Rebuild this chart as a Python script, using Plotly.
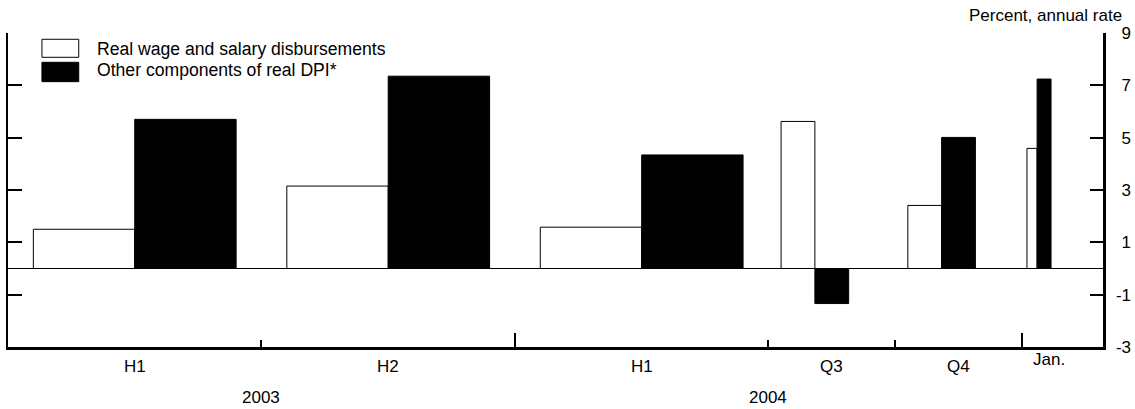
import plotly.graph_objects as go

# ---------------- data ----------------
period_labels = ["H1", "H2", "H1", "Q3", "Q4", "Jan."]
period_start = [0, 6, 12, 18, 21, 24]      # months since Jan 2003
period_length = [6, 6, 6, 3, 3, 1]         # months
year_labels = ["2003", "2004"]
year_start = [0, 12]
year_length = [12, 12]
wages = [1.50, 3.15, 1.58, 5.62, 2.41, 4.59]
other = [5.70, 7.35, 4.34, -1.34, 5.01, 7.24]
y_ticks = [-3, -1, 1, 3, 5, 7, 9]

# ---------------- layout helpers (positions within each period, in months) ----------------
group_offset = [3.0, 3.0, 3.0, 1.1, 1.1, 0.36]
white_width = [2.4, 2.4, 2.4, 0.8, 0.8, 0.24]
black_width = [2.4, 2.4, 2.4, 0.8, 0.8, 0.33]

centers = [s + o for s, o in zip(period_start, group_offset)]
white_x = [c - w / 2 for c, w in zip(centers, white_width)]
black_x = [c + w / 2 for c, w in zip(centers, black_width)]

FONT = "Liberation Sans, Arial, sans-serif"
FS = 17

fig = go.Figure()
fig.add_trace(go.Bar(x=white_x, y=wages, width=white_width, name="Real wage and salary disbursements",
                     marker=dict(color="white", line=dict(color="black", width=1)),
                     showlegend=False))
fig.add_trace(go.Bar(x=black_x, y=other, width=black_width, name="Other components of real DPI*",
                     marker=dict(color="black", line=dict(color="black", width=1)),
                     showlegend=False))

xr = [0, 25.92]
yr = [-3, 9]

def tick_text(v):
    return ("-" + str(abs(v))) if v < 0 else ("\u2004" + str(v))

fig.update_layout(
    width=1135, height=409,
    margin=dict(l=8, r=32, t=33, b=62, autoexpand=False),
    paper_bgcolor="white", plot_bgcolor="white",
    barmode="overlay", bargap=0,
    font=dict(family=FONT, size=FS, color="black"),
    showlegend=False,
    xaxis=dict(range=xr, showgrid=False, zeroline=False, showline=True, linecolor="black",
               linewidth=2.5, ticks="inside", tickvals=[6, 18, 21], ticklen=7, tickwidth=2,
               tickcolor="black", showticklabels=False, fixedrange=True, automargin=False),
    xaxis2=dict(range=xr, overlaying="x", side="bottom", showgrid=False, zeroline=False,
                showline=False, ticks="inside", tickvals=[12, 24], ticklen=14, tickwidth=2,
                tickcolor="black", showticklabels=False, automargin=False),
    yaxis=dict(range=yr, side="right", showgrid=False, zeroline=True, zerolinecolor="black",
               zerolinewidth=1.5, showline=True, linecolor="black", linewidth=2.5,
               ticks="inside", tickvals=y_ticks, ticktext=[tick_text(v) for v in y_ticks],
               ticklen=13, tickwidth=2, tickcolor="black", ticklabelstandoff=7,
               tickfont=dict(family=FONT, size=FS, color="black"), automargin=False),
    yaxis2=dict(range=yr, overlaying="y", side="left", showgrid=False, zeroline=False,
                showline=True, linecolor="black", linewidth=2.5, ticks="inside",
                tickvals=y_ticks[1:-1], ticklen=14, tickwidth=2, tickcolor="black",
                showticklabels=False, automargin=False),
    yaxis3=dict(range=yr, overlaying="y", side="right", showgrid=False, zeroline=False,
                showline=False, ticks="inside", tickvals=[y_ticks[-1]], ticklen=21, tickwidth=2,
                tickcolor="black", showticklabels=False, automargin=False),
    yaxis4=dict(range=yr, overlaying="y", side="left", showgrid=False, zeroline=False,
                showline=False, ticks="inside", tickvals=[y_ticks[-1]], ticklen=22, tickwidth=2,
                tickcolor="black", showticklabels=False, automargin=False),
)

# dummy traces to activate overlay axes
for xa, ya in [("x2", "y2"), ("x", "y3"), ("x", "y4")]:
    fig.add_trace(go.Scatter(x=[None], y=[None], xaxis=xa, yaxis=ya, showlegend=False,
                             hoverinfo="skip"))

annotations = []
for lab, s, l in zip(period_labels, period_start, period_length):
    is_month = l == 1
    annotations.append(dict(x=s + l / 2, y=0, xref="x", yref="paper", text=lab,
                            showarrow=False, xanchor="center", yanchor="middle",
                            xshift=6 if is_month else 0,
                            yshift=-12 if is_month else -19.5,
                            font=dict(family=FONT, size=FS)))
for lab, s, l in zip(year_labels, year_start, year_length):
    annotations.append(dict(x=s + l / 2, y=0, xref="x", yref="paper", text=lab,
                            showarrow=False, xanchor="center", yanchor="middle",
                            yshift=-50.3, font=dict(family=FONT, size=FS)))

annotations.append(dict(x=1.019, y=1.057, xref="paper", yref="paper",
                        text="Percent, annual rate", showarrow=False,
                        xanchor="right", yanchor="middle", font=dict(family=FONT, size=FS)))

# custom legend
legend_names = [fig.data[0].name, fig.data[1].name]
legend_fill = ["white", "black"]
legend_rows = [(0.9226, 0.98, 0.9497), (0.845, 0.9067, 0.882)]
shapes = []
for name, fill, (y0, y1, ym) in zip(legend_names, legend_fill, legend_rows):
    shapes.append(dict(type="rect", xref="paper", yref="paper", x0=0.031, x1=0.0646,
                       y0=y0, y1=y1, fillcolor=fill, line=dict(color="black", width=1)))
    annotations.append(dict(x=0.0795, y=ym, xref="paper", yref="paper", text=name,
                            showarrow=False, xanchor="left", yanchor="middle",
                            font=dict(family=FONT, size=17.6)))

fig.update_layout(annotations=annotations, shapes=shapes)
fig.write_html("out.html", config={"displayModeBar": False, "staticPlot": True})

# remove default browser body margin so the figure sits at the window origin
with open("out.html", "r", encoding="utf-8") as f:
    html = f.read()
html = html.replace("<body>", '<body style="margin:0;padding:0;overflow:hidden">', 1)
html = html.replace("<head>", '<head><style>html,body{margin:0;padding:0;}</style>', 1)
with open("out.html", "w", encoding="utf-8") as f:
    f.write(html)
